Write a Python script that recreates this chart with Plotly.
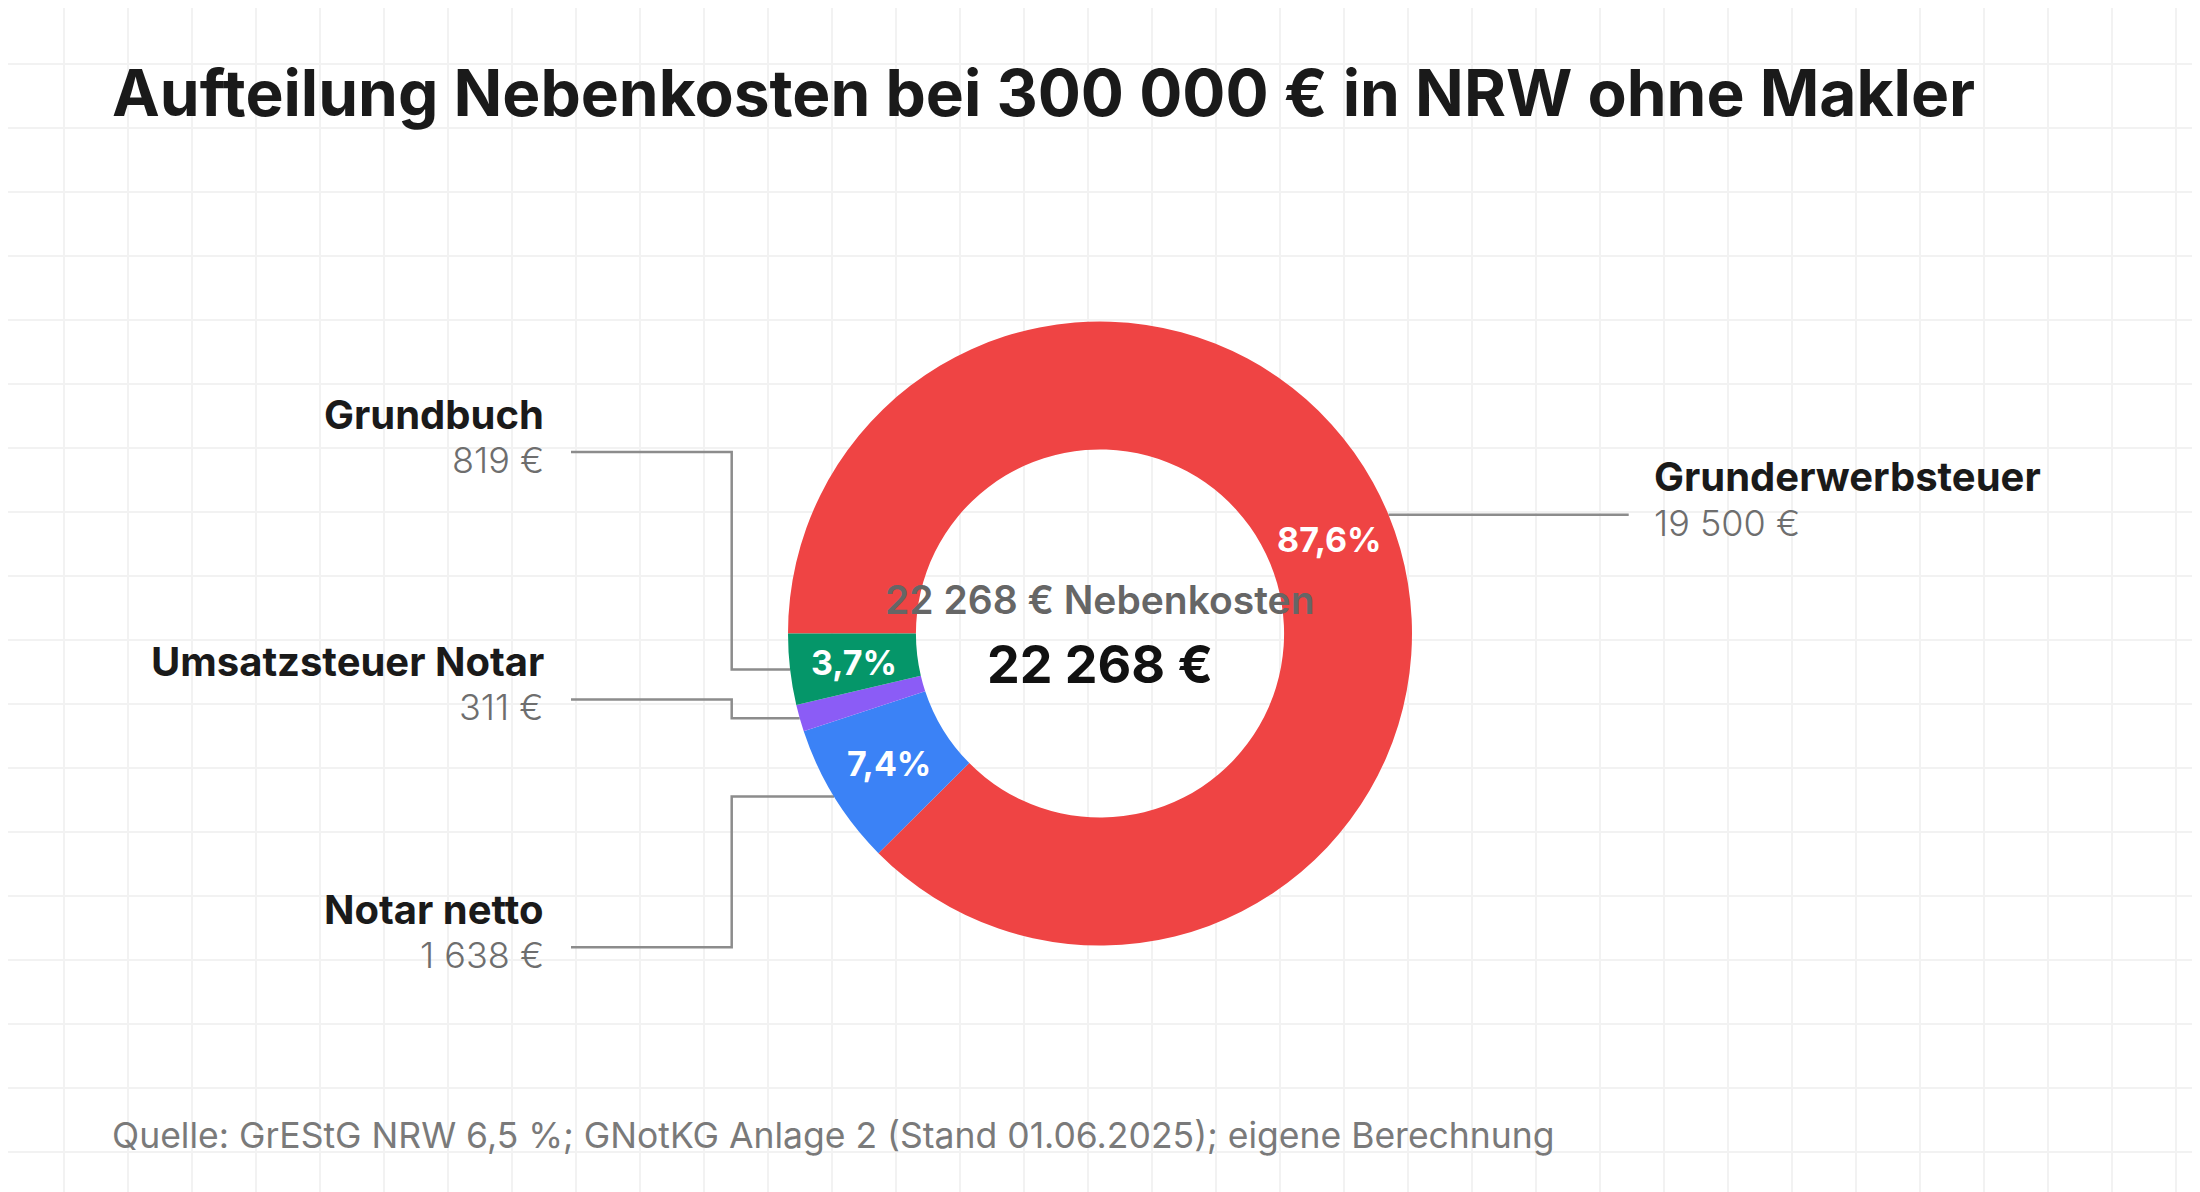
import numpy as np
import plotly.graph_objects as go

# ---------------- data ----------------
labels = ["Grunderwerbsteuer", "Notar netto", "Umsatzsteuer Notar", "Grundbuch"]
values = [19500, 1638, 311, 819]
colors = ["#ef4444", "#3b82f6", "#8b5cf6", "#059669"]
title_text = "Aufteilung Nebenkosten bei 300 000 € in NRW ohne Makler"
center_caption = "Nebenkosten"
source_text = "Quelle: GrEStG NRW 6,5 %; GNotKG Anlage 2 (Stand 01.06.2025); eigene Berechnung"

# ---------------- layout constants (screen pixels) ----------------
W, H = 2200, 1192
BODY = 8                      # default page margin of the html body
WF, HF = W - BODY, H - BODY   # figure size so it fits the window
CX, CY = 1100.0, 633.5
R = 312.0
HOLE = 0.59
FONT = "Inter"
LEFT_LABEL_Y = [452.0, 699.4, 947.3]   # label rows on the left, top to bottom
LEFT_TEXT_X = 546.0
LEFT_LINE_X0 = 571.0
LEFT_ELBOW_X = 731.7
RIGHT_LINE_X1 = 1628.7
RIGHT_TEXT_X = 1652.0
LINE_COLOR = "#8c8c8c"


def eur(v):
    return f"{int(round(v)):,}".replace(",", " ") + " €"


def pct(v, tot):
    return f"{v / tot * 100:.1f}".replace(".", ",") + "%"


vals = np.array(values, dtype=float)
total = vals.sum()
cum = np.concatenate([[0.0], np.cumsum(vals)])
START = 270.0  # 9 o'clock, measured clockwise from 12 o'clock
mid_deg = START + (cum[:-1] + vals / 2) / total * 360.0
mid_rad = np.deg2rad(mid_deg)


def pt(r, a):
    return CX + r * np.sin(a), CY - r * np.cos(a)


fig = go.Figure()

# donut
fig.add_trace(go.Pie(
    labels=labels, values=values, sort=False, direction="clockwise", rotation=START,
    hole=HOLE, marker=dict(colors=colors, line=dict(width=0)),
    textinfo="none", hoverinfo="label+value", showlegend=False,
    domain=dict(x=[(CX - R - BODY) / WF, (CX + R - BODY) / WF],
                y=[(H - CY - R) / HF, (H - CY + R) / HF]),
))

annotations = []

# percentage labels in the ring
r_text = R * (1 + HOLE) / 2
for i, v in enumerate(values):
    if v / total < 0.02:
        continue
    x, y = pt(r_text, mid_rad[i])
    annotations.append(dict(x=x, y=y, xref="x", yref="y", text=pct(v, total), showarrow=False,
                            xanchor="center", yanchor="middle",
                            font=dict(family=FONT, size=34, color="white", weight=700)))

NAME_FONT = dict(family=FONT, size=40, color="#1a1a1a", weight=700)
VALUE_FONT = dict(family=FONT, size=36, color="#6e6e6e", weight=300)

# leader lines + labels
left_idx = [i for i in range(len(values)) if np.sin(mid_rad[i]) < 0]
left_idx.sort(key=lambda i: pt(R, mid_rad[i])[1])
for row, i in enumerate(left_idx):
    ax, ay = pt(R, mid_rad[i])
    L = LEFT_LABEL_Y[row]
    fig.add_trace(go.Scatter(x=[LEFT_LINE_X0, LEFT_ELBOW_X, LEFT_ELBOW_X, ax], y=[L, L, ay, ay],
                             mode="lines", line=dict(color=LINE_COLOR, width=2.5),
                             hoverinfo="skip", showlegend=False))
    annotations.append(dict(x=LEFT_TEXT_X, y=L - 38, xref="x", yref="y", text=labels[i], showarrow=False,
                            xanchor="right", yanchor="middle", font=NAME_FONT))
    annotations.append(dict(x=LEFT_TEXT_X, y=L + 8, xref="x", yref="y", text=eur(values[i]), showarrow=False,
                            xanchor="right", yanchor="middle", font=VALUE_FONT))

right_idx = [i for i in range(len(values)) if np.sin(mid_rad[i]) >= 0]
for i in right_idx:
    ax, ay = pt(R, mid_rad[i])
    L = ay
    fig.add_trace(go.Scatter(x=[ax, RIGHT_LINE_X1], y=[ay, ay],
                             mode="lines", line=dict(color=LINE_COLOR, width=2.5),
                             hoverinfo="skip", showlegend=False))
    annotations.append(dict(x=RIGHT_TEXT_X, y=L - 38, xref="x", yref="y", text=labels[i], showarrow=False,
                            xanchor="left", yanchor="middle", font=NAME_FONT))
    annotations.append(dict(x=RIGHT_TEXT_X, y=L + 8, xref="x", yref="y", text=eur(values[i]), showarrow=False,
                            xanchor="left", yanchor="middle", font=VALUE_FONT))

# centre texts
annotations.append(dict(x=CX, y=599.5, xref="x", yref="y", text=f"{eur(total)} {center_caption}",
                        showarrow=False, xanchor="center", yanchor="middle",
                        font=dict(family=FONT, size=39, color="#666666", weight=600)))
annotations.append(dict(x=CX, y=664, xref="x", yref="y", text=eur(total),
                        showarrow=False, xanchor="center", yanchor="middle",
                        font=dict(family=FONT, size=52, color="#111111", weight=700)))

# title and source
annotations.append(dict(x=110, y=92.7, xref="x", yref="y", text=title_text, showarrow=False,
                        xanchor="left", yanchor="middle",
                        font=dict(family=FONT, size=64, color="#1a1a1a", weight=700)))
annotations.append(dict(x=110, y=1135, xref="x", yref="y", text=source_text, showarrow=False,
                        xanchor="left", yanchor="middle",
                        font=dict(family=FONT, size=35.5, color="#7a7a7a", weight=400)))

grid_axis = dict(showgrid=True, gridcolor="#f2f2f2", gridwidth=1.5, dtick=64, tick0=0,
                 zeroline=False, showticklabels=False, ticks="", showline=False, fixedrange=True)

fig.update_layout(
    width=WF, height=HF, margin=dict(l=0, r=0, t=0, b=0),
    paper_bgcolor="white", plot_bgcolor="white",
    xaxis=dict(range=[BODY, W], **grid_axis),
    yaxis=dict(range=[H, BODY], **grid_axis),
    annotations=annotations,
    font=dict(family=FONT),
    showlegend=False,
)

fig.write_html("out.html")
